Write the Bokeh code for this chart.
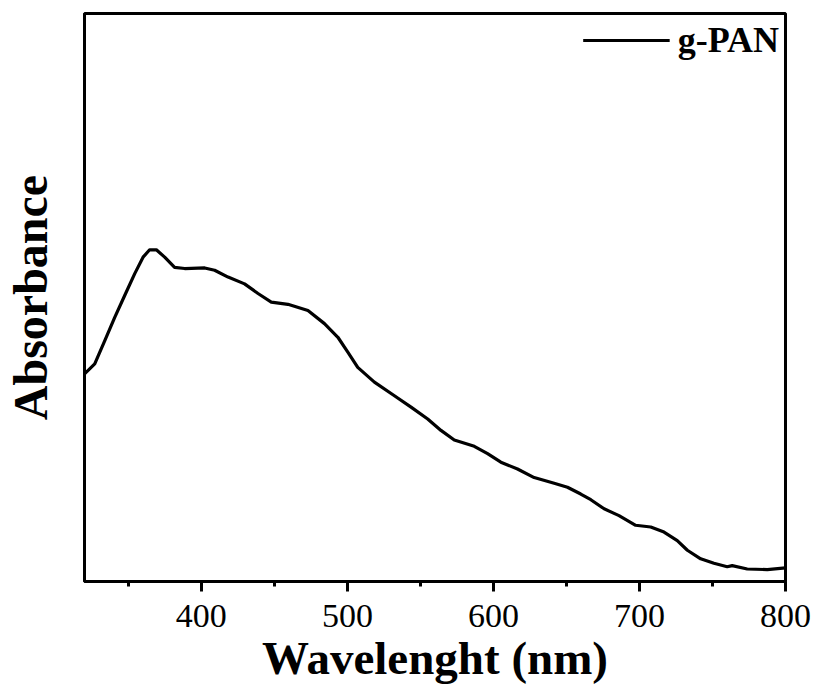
from bokeh.plotting import figure
from bokeh.models import Range1d, SingleIntervalTicker, Legend, LegendItem, FixedTicker
from bokeh.embed import file_html
from bokeh.resources import INLINE

wavelength = [320.2, 327.0, 333.9, 340.7, 347.6, 354.4, 360.1, 364.6, 369.2, 374.9,
              381.7, 388.6, 402.3, 409.1, 418.3, 429.6, 438.8, 447.9, 459.3, 473.0,
              484.3, 493.5, 500.3, 507.1, 518.5, 532.2, 543.6, 555.0, 564.1,
              573.2, 586.9, 596.0, 605.1, 616.5, 627.9, 641.6, 650.7, 659.8, 666.7,
              675.8, 686.0, 697.4, 707.7, 716.8, 725.9, 732.8, 741.9, 751.0, 760.1,
              763.5, 773.8, 787.5, 800.0]
absorbance = [0.366, 0.383, 0.424, 0.465, 0.504, 0.542, 0.571, 0.584, 0.584, 0.571,
              0.553, 0.551, 0.552, 0.548, 0.536, 0.524, 0.507, 0.492, 0.488, 0.477,
              0.454, 0.430, 0.404, 0.377, 0.351, 0.327, 0.307, 0.286, 0.266,
              0.249, 0.238, 0.225, 0.210, 0.198, 0.183, 0.173, 0.166, 0.154, 0.144,
              0.128, 0.116, 0.099, 0.096, 0.087, 0.072, 0.055, 0.040, 0.032, 0.026,
              0.028, 0.022, 0.021, 0.024]
series_name = "g-PAN"
x_title = "Wavelenght (nm)"
y_title = "Absorbance"

FONT = "Liberation Serif"

p = figure(width=819, height=693,
           min_border_left=83, min_border_right=34, min_border_top=13, min_border_bottom=112,
           x_range=Range1d(320, 800), y_range=Range1d(0, 1),
           output_backend="svg", toolbar_location=None,
           x_axis_label=x_title, y_axis_label=y_title)

r = p.line(wavelength, absorbance, line_color="black", line_width=3.2, line_join="round")

p.grid.visible = False
p.background_fill_color = "white"
p.border_fill_color = "white"
p.outline_line_color = "black"
p.outline_line_width = 3

xa = p.xaxis[0]
xa.ticker = SingleIntervalTicker(interval=100, num_minor_ticks=2)
xa.axis_line_width = 3
xa.major_tick_line_width = 3
xa.minor_tick_line_width = 3
xa.major_tick_out = 10
xa.major_tick_in = 0
xa.minor_tick_out = 5
xa.minor_tick_in = 0
xa.major_label_text_font = FONT
xa.major_label_text_font_size = "34px"
xa.major_label_text_color = "black"
xa.major_label_standoff = 13
xa.axis_label_text_font = FONT
xa.axis_label_text_font_style = "bold"
xa.axis_label_text_font_size = "47px"
xa.axis_label_text_color = "black"
xa.axis_label_standoff = 2

ya = p.yaxis[0]
ya.ticker = FixedTicker(ticks=[])
ya.axis_line_width = 3
ya.major_tick_line_color = None
ya.minor_tick_line_color = None
ya.major_tick_out = 0
ya.major_tick_in = 0
ya.minor_tick_out = 0
ya.minor_tick_in = 0
ya.major_label_standoff = 0
ya.major_label_text_font_size = "0px"
ya.axis_label_text_font = FONT
ya.axis_label_text_font_style = "bold"
ya.axis_label_text_font_size = "48px"
ya.axis_label_text_color = "black"
ya.axis_label_standoff = 28

legend = Legend(items=[LegendItem(label=series_name, renderers=[r])],
                location="top_right")
legend.border_line_color = None
legend.background_fill_alpha = 0
legend.label_text_font = FONT
legend.label_text_font_style = "bold"
legend.label_text_font_size = "36px"
legend.label_text_color = "black"
legend.glyph_width = 87
legend.glyph_height = 30
legend.label_standoff = 8
legend.padding = 2
legend.margin = 6
p.add_layout(legend)

open("out.html", "w").write(file_html(p, INLINE))
